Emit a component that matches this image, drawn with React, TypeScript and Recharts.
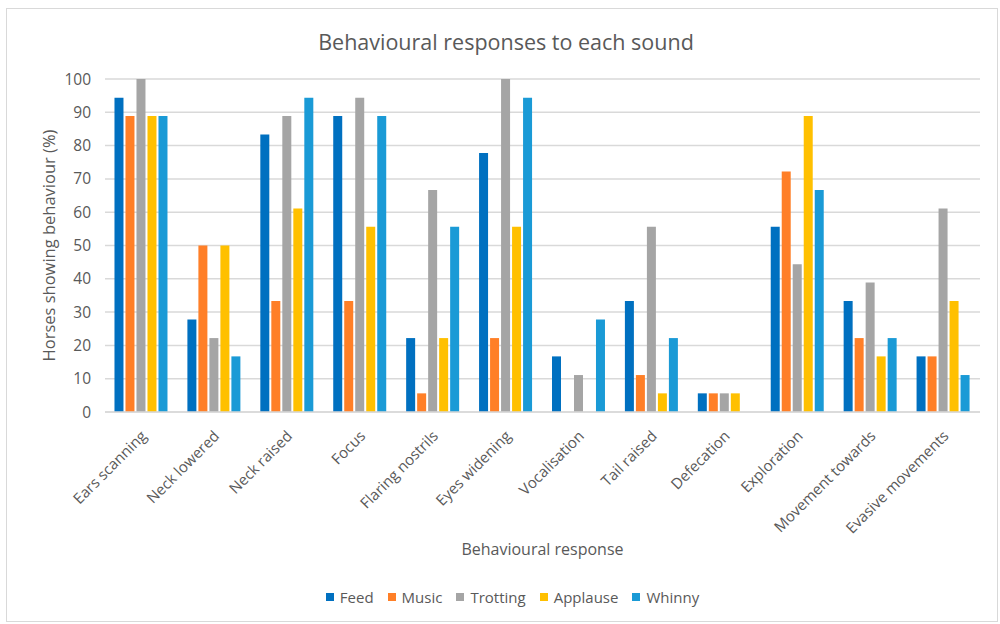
import React from "react";
import {
  BarChart,
  Bar,
  XAxis,
  YAxis,
  CartesianGrid,
  Legend,
  Label,
} from "recharts";

// Categorías del eje X
const behaviours = [
  "Ears scanning",
  "Neck lowered",
  "Neck raised",
  "Focus",
  "Flaring nostrils",
  "Eyes widening",
  "Vocalisation",
  "Tail raised",
  "Defecation",
  "Exploration",
  "Movement towards",
  "Evasive movements",
];

// Porcentaje de caballos por sonido
const feed = [94.4, 27.8, 83.3, 88.9, 22.2, 77.8, 16.7, 33.3, 5.6, 55.6, 33.3, 16.7];
const music = [88.9, 50, 33.3, 33.3, 5.6, 22.2, 0, 11.1, 5.6, 72.2, 22.2, 16.7];
const trotting = [100, 22.2, 88.9, 94.4, 66.7, 100, 11.1, 55.6, 5.6, 44.4, 38.9, 61.1];
const applause = [88.9, 50, 61.1, 55.6, 22.2, 55.6, 0, 5.6, 5.6, 88.9, 16.7, 33.3];
const whinny = [88.9, 16.7, 94.4, 88.9, 55.6, 94.4, 27.8, 22.2, 0, 66.7, 22.2, 11.1];

const yTicks = [0, 10, 20, 30, 40, 50, 60, 70, 80, 90, 100];

// Series en el orden de la leyenda
const series = [
  { key: "Feed", color: "#0070C0" },
  { key: "Music", color: "#FF7F27" },
  { key: "Trotting", color: "#A5A5A5" },
  { key: "Applause", color: "#FFC000" },
  { key: "Whinny", color: "#1A9AD6" },
];

const data = behaviours.map((name, i) => ({
  name,
  Feed: feed[i],
  Music: music[i],
  Trotting: trotting[i],
  Applause: applause[i],
  Whinny: whinny[i],
}));

const FONT = "'Open Sans', sans-serif";
const GREY = "#595959";

// Etiquetas inclinadas a -45°
const AngledTick = (props: any) => {
  const { x, y, payload } = props;
  const ax = x + 6;
  const ay = y + 17;
  return (
    <text
      x={ax}
      y={ay}
      transform={`rotate(-45, ${ax}, ${ay})`}
      textAnchor="end"
      fill={GREY}
      fontSize={15}
      fontFamily={FONT}
    >
      {payload.value}
    </text>
  );
};

// Leyenda propia para mantener el orden original
const LegendContent = () => (
  <div
    style={{
      display: "flex",
      justifyContent: "center",
      gap: 14,
      fontSize: 15,
      color: GREY,
      fontFamily: FONT,
    }}
  >
    {series.map((s) => (
      <div key={s.key} style={{ display: "flex", alignItems: "center" }}>
        <span
          style={{
            display: "inline-block",
            width: 8,
            height: 8,
            background: s.color,
            marginRight: 6,
          }}
        />
        <span>{s.key}</span>
      </div>
    ))}
  </div>
);

export default function App() {
  return (
    <div
      style={{
        position: "absolute",
        left: 0,
        top: 0,
        width: 1000,
        height: 624,
        background: "#fff",
        fontFamily: FONT,
      }}
    >
      <div
        style={{
          position: "absolute",
          left: 6,
          top: 8,
          width: 992,
          height: 614,
          border: "1px solid #d9d9d9",
          boxSizing: "border-box",
        }}
      />
      <div
        style={{
          position: "absolute",
          left: 0,
          top: 27,
          width: 1012,
          textAlign: "center",
          fontSize: 21.5,
          color: GREY,
        }}
      >
        Behavioural responses to each sound
      </div>
      <BarChart
        width={1000}
        height={624}
        data={data}
        margin={{ top: 79, right: 20, left: 45, bottom: 17 }}
        barCategoryGap="13%"
        barGap={2}
        style={{ position: "absolute", left: 0, top: 0 }}
      >
        <CartesianGrid vertical={false} stroke="#d9d9d9" strokeWidth={1.5} />
        <XAxis
          dataKey="name"
          interval={0}
          tick={<AngledTick />}
          tickLine={false}
          axisLine={{ stroke: "#d9d9d9", strokeWidth: 1.5 }}
          height={175}
        >
          <Label
            value="Behavioural response"
            position="insideBottom"
            offset={32}
            fill={GREY}
            fontSize={16}
            fontFamily={FONT}
          />
        </XAxis>
        <YAxis
          domain={[0, 100]}
          ticks={yTicks}
          interval={0}
          tickLine={false}
          axisLine={false}
          tickSize={3}
          tickMargin={11}
          width={60}
          tick={{ fill: GREY, fontSize: 15.5, fontFamily: FONT }}
        >
          <Label
            value="Horses showing behaviour (%)"
            angle={-90}
            position="insideLeft"
            offset={4}
            style={{ textAnchor: "middle" }}
            fill={GREY}
            fontSize={16.5}
            fontFamily={FONT}
          />
        </YAxis>
        <Legend verticalAlign="bottom" content={<LegendContent />} />
        {series.map((s) => (
          <Bar
            key={s.key}
            dataKey={s.key}
            fill={s.color}
            isAnimationActive={false}
          />
        ))}
      </BarChart>
    </div>
  );
}
